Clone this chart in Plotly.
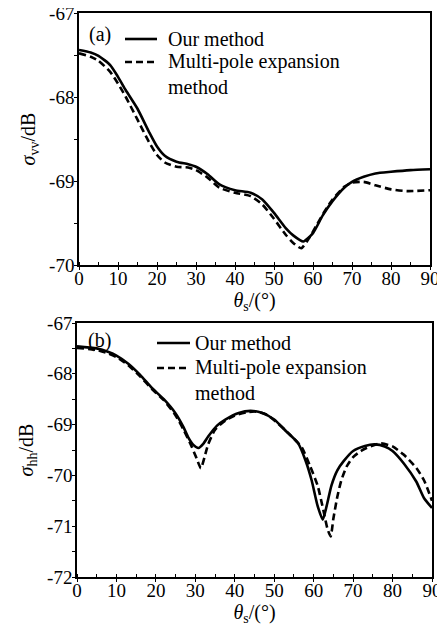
import plotly.graph_objects as go

# ---- data ----
theta_a_our = [0, 3, 5, 8, 10, 12, 15, 18, 20, 22, 25, 28, 30, 33, 36, 40, 44, 47, 50, 53, 55, 57.5, 60, 62.5, 65, 68, 70, 73, 76, 80, 85, 90]
vv_our = [-67.44, -67.47, -67.51, -67.62, -67.76, -67.92, -68.14, -68.42, -68.59, -68.70, -68.77, -68.80, -68.83, -68.92, -69.04, -69.11, -69.14, -69.22, -69.38, -69.56, -69.65, -69.72, -69.62, -69.41, -69.24, -69.08, -69.01, -68.95, -68.91, -68.89, -68.87, -68.86]

theta_a_mp = [0, 3, 5, 8, 10, 12, 15, 18, 20, 22, 25, 28, 30, 33, 36, 40, 44, 47, 50, 53, 55, 57, 59, 61, 63, 65, 68, 70, 73, 76, 80, 84, 90]
vv_mp = [-67.48, -67.52, -67.57, -67.70, -67.84, -68.00, -68.27, -68.54, -68.69, -68.78, -68.83, -68.84, -68.87, -68.96, -69.08, -69.14, -69.18, -69.28, -69.45, -69.64, -69.74, -69.80, -69.68, -69.52, -69.36, -69.22, -69.07, -69.02, -69.01, -69.05, -69.10, -69.12, -69.11]

theta_b_our = [0, 5, 8, 10, 13, 16, 19, 22, 25, 27, 28.2, 29.5, 30.8, 32, 33.3, 35.5, 37.6, 41, 44, 47, 50, 53, 56, 58, 59.5, 61, 62.3, 63.3, 64.5, 66, 67.6, 70, 73, 75.5, 78, 80, 83, 86, 88, 90]
hh_our = [-67.46, -67.50, -67.57, -67.64, -67.80, -68.02, -68.28, -68.50, -68.78, -69.05, -69.25, -69.40, -69.46, -69.38, -69.23, -69.02, -68.90, -68.77, -68.73, -68.77, -68.90, -69.13, -69.36, -69.72, -70.10, -70.60, -70.87, -70.60, -70.20, -69.90, -69.72, -69.52, -69.42, -69.39, -69.43, -69.52, -69.78, -70.12, -70.45, -70.64]

theta_b_mp = [0, 5, 8, 10, 13, 16, 19, 22, 25, 27, 29, 30.4, 31.4, 32.3, 33.2, 35, 37.6, 40, 43, 45, 48, 51, 54, 57, 59, 61, 62.5, 63.5, 64.3, 65, 66, 67, 68.4, 70, 72.6, 76.9, 80, 82.8, 86, 88, 90]
hh_mp = [-67.49, -67.53, -67.60, -67.67, -67.83, -68.05, -68.30, -68.52, -68.82, -69.10, -69.42, -69.68, -69.86, -69.65, -69.40, -69.10, -68.92, -68.82, -68.76, -68.74, -68.80, -68.98, -69.20, -69.45, -69.80, -70.20, -70.70, -71.05, -71.20, -70.85, -70.42, -70.10, -69.82, -69.64, -69.49, -69.37, -69.43, -69.59, -69.85, -70.10, -70.50]

x_ticks = [0, 10, 20, 30, 40, 50, 60, 70, 80, 90]
y_ticks_a = [-70, -69, -68, -67]
y_ticks_b = [-72, -71, -70, -69, -68, -67]
legend_labels = ["Our method", "Multi-pole expansion<br>method"]

# the page places the figure 8px in from the window's top-left corner
OFF = 8
W, H = 445 - OFF, 628 - OFF
FONT = "Liberation Serif, Times New Roman, serif"

def px_x(p):
    return (p - OFF) / W

def px_y(p):
    return 1 - (p - OFF) / H

fig = go.Figure()
line_w = 2.6
dash = "7px,4px"
spl = dict(shape="spline", smoothing=0.6)
fig.add_trace(go.Scatter(x=theta_a_our, y=vv_our, mode="lines", line=dict(color="black", width=line_w, **spl), xaxis="x", yaxis="y", showlegend=False))
fig.add_trace(go.Scatter(x=theta_a_mp, y=vv_mp, mode="lines", line=dict(color="black", width=line_w, dash=dash, **spl), xaxis="x", yaxis="y", showlegend=False))
fig.add_trace(go.Scatter(x=theta_b_our, y=hh_our, mode="lines", line=dict(color="black", width=line_w, **spl), xaxis="x2", yaxis="y2", showlegend=False))
fig.add_trace(go.Scatter(x=theta_b_mp, y=hh_mp, mode="lines", line=dict(color="black", width=line_w, dash=dash, **spl), xaxis="x2", yaxis="y2", showlegend=False))

tickfont = dict(family=FONT, size=19, color="black")
titlefont = dict(family=FONT, size=20, color="black")

def xaxis(domain, anchor, standoff):
    return dict(domain=domain, anchor=anchor, range=[0, 90], tickvals=x_ticks,
                ticktext=[str(v) for v in x_ticks], automargin=False,
                ticklabeloverflow="allow",
                showline=True, linecolor="black", linewidth=1.5, mirror=True,
                ticks="outside", ticklen=3, tickcolor="black", tickwidth=1.2,
                ticklabelstandoff=-8,
                minor=dict(dtick=5, ticks="inside", ticklen=3, tickcolor="black", tickwidth=1.2),
                showgrid=False, zeroline=False, tickfont=tickfont,
                title=dict(text="<i>θ</i><sub>s</sub>/(°)", font=titlefont, standoff=standoff))

def yaxis(domain, anchor, rng, ticks, title):
    return dict(domain=domain, anchor=anchor, range=rng, tickvals=ticks,
                ticktext=["-%d" % abs(v) for v in ticks], automargin=False,
                ticklabeloverflow="allow",
                showline=True, linecolor="black", linewidth=1.5, mirror=True,
                ticks="outside", ticklen=3, tickcolor="black", tickwidth=1.2,
                ticklabelstandoff=-4,
                minor=dict(dtick=0.5, ticks="outside", ticklen=3, tickcolor="black", tickwidth=1.2),
                showgrid=False, zeroline=False, tickfont=tickfont,
                title=dict(text=title, font=titlefont, standoff=8))

fig.update_layout(
    width=W, height=H,
    margin=dict(l=0, r=0, t=0, b=0),
    paper_bgcolor="white", plot_bgcolor="white",
    xaxis=xaxis([px_x(79), px_x(430)], "y", 0),
    yaxis=yaxis([px_y(265), px_y(13)], "x", [-70, -67], y_ticks_a, "<i>σ</i><sub>vv</sub>/dB"),
    xaxis2=xaxis([px_x(77), px_x(432)], "y2", 2),
    yaxis2=yaxis([px_y(577), px_y(323)], "x2", [-72, -67], y_ticks_b, "<i>σ</i><sub>hh</sub>/dB"),
    showlegend=False,
)

lf = dict(family=FONT, size=20, color="black")
annotations = []
shapes = []

def legend(x_line0, x_line1, x_text, y_row1, y_row2, y_mid2):
    shapes.append(dict(type="line", xref="paper", yref="paper", x0=px_x(x_line0), x1=px_x(x_line1),
                       y0=px_y(y_row1), y1=px_y(y_row1), line=dict(color="black", width=line_w)))
    shapes.append(dict(type="line", xref="paper", yref="paper", x0=px_x(x_line0), x1=px_x(x_line1),
                       y0=px_y(y_row2), y1=px_y(y_row2), line=dict(color="black", width=line_w, dash=dash)))
    annotations.append(dict(text=legend_labels[0], xref="paper", yref="paper", x=px_x(x_text), y=px_y(y_row1),
                            xanchor="left", yanchor="middle", showarrow=False, font=lf))
    annotations.append(dict(text=legend_labels[1], xref="paper", yref="paper", x=px_x(x_text), y=px_y(y_mid2),
                            xanchor="left", yanchor="middle", align="left", showarrow=False, font=lf))

legend(125, 157, 166, 39, 62, 74)
legend(157, 190, 193, 343, 368, 380)

annotations.append(dict(text="(a)", xref="paper", yref="paper", x=px_x(100), y=px_y(34),
                        xanchor="center", yanchor="middle", showarrow=False, font=lf))
annotations.append(dict(text="(b)", xref="paper", yref="paper", x=px_x(99), y=px_y(340),
                        xanchor="center", yanchor="middle", showarrow=False, font=lf))

fig.update_layout(annotations=annotations, shapes=shapes)
fig.write_html("out.html")
